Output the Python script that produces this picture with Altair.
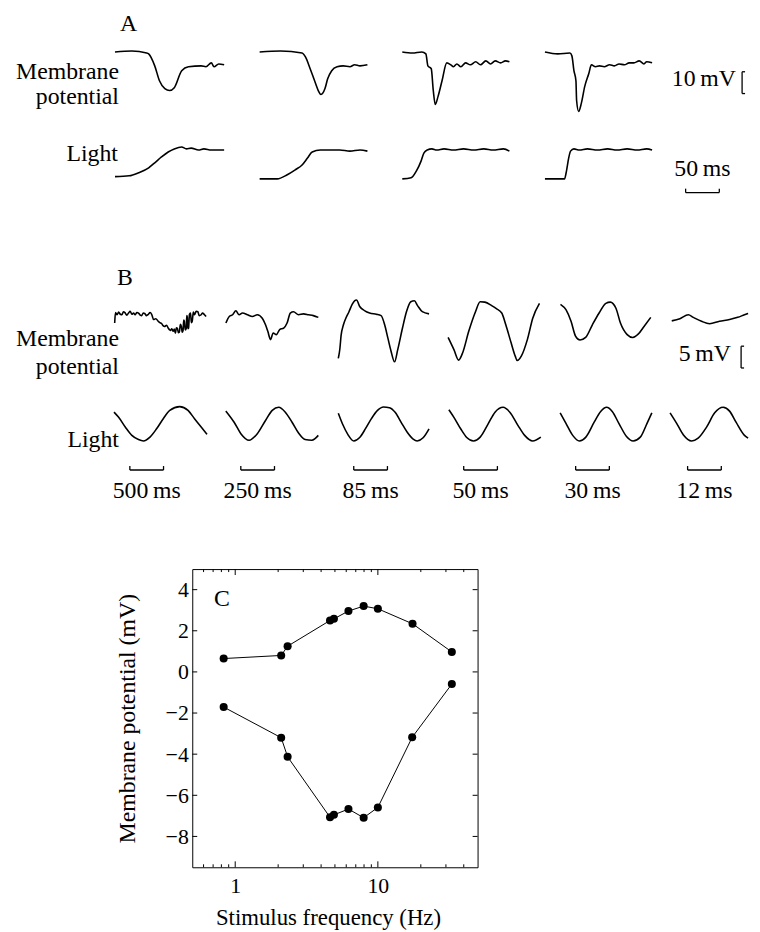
import altair as alt
import pandas as pd

FONT = "Liberation Serif"

# ---------------- Panel A : responses to light steps ----------------
# time (ms) from trace start, membrane potential (mV re. resting level)
A_MEM_T = [
    [0, 25, 47, 50, 59, 66, 74, 81, 88, 99, 109, 128, 135, 143, 147, 154, 162],
    [0, 31, 63, 68, 75, 82, 87, 91, 97, 101, 107, 115, 124, 134, 141, 149, 160],
    [0, 15, 29, 35, 38, 43, 46, 49, 53, 59, 66, 72, 76, 81, 87, 94, 101, 109, 116, 124, 131, 138, 146, 153, 159],
    [0, 19, 37, 40, 43, 46, 47, 50, 54, 59, 65, 69, 75, 81, 88, 96, 103, 110, 118, 125, 132, 140, 147, 151, 159],
]
A_MEM_V = [
    [0, 0.45, -0.45, -0.9, -6.4, -13.2, -16.8, -17.7, -16.4, -8.6, -6.8, -6.4, -6.8, -5.0, -6.8, -5.5, -5.9],
    [0, 0.45, -0.45, -2.3, -7.7, -13.6, -17.7, -19.5, -16.8, -12.3, -8.6, -6.8, -6.4, -6.8, -5.9, -6.4, -5.9],
    [0, -0.5, 0, -0.9, -6.4, -7.7, -17.7, -24.1, -20.5, -13.2, -5.0, -5.9, -6.8, -5.5, -6.8, -5.0, -5.9, -4.5, -5.9, -4.1, -5.5, -4.1, -5.0, -4.1, -4.5],
    [0, -0.9, -0.5, -1.8, -8.6, -13.2, -22.3, -27.3, -23.6, -15.9, -10.0, -5.9, -6.8, -6.4, -6.8, -5.9, -6.4, -5.5, -5.9, -5.0, -5.0, -4.1, -5.5, -4.5, -5.0],
]
# light intensity (normalised 0..1)
A_LIGHT_T = [
    [0, 21, 35, 50, 59, 69, 79, 88, 99, 106, 113, 124, 132, 143, 162],
    [0, 26, 41, 53, 63, 71, 78, 90, 104, 119, 134, 149, 160],
    [0, 13, 21, 28, 32, 37, 44, 51, 62, 76, 91, 106, 121, 135, 150, 159],
    [0, 29, 32, 35, 38, 43, 51, 63, 78, 93, 107, 122, 137, 151, 159],
]
A_LIGHT_L = [
    [0.04, 0.07, 0.18, 0.36, 0.54, 0.75, 0.93, 1.04, 1.11, 1.04, 1.07, 1.0, 1.04, 1.0, 1.0],
    [-0.04, -0.04, 0.11, 0.29, 0.46, 0.71, 0.93, 1.0, 1.0, 1.0, 0.96, 1.0, 0.96],
    [-0.04, 0, 0.25, 0.61, 0.89, 1.0, 1.04, 1.0, 1.04, 1.0, 1.04, 1.0, 1.04, 1.0, 1.04, 0.96],
    [-0.04, -0.04, 0.25, 0.68, 0.96, 1.04, 1.0, 1.04, 1.0, 1.04, 1.0, 1.04, 1.0, 1.04, 1.0],
]
A_TIME_BAR_MS = 50
A_VOLT_BAR_MV = 10

# ---------------- Panel B : responses to sinusoidal light ----------------
B_BAR_MS = [500, 250, 85, 50, 30, 12]
B_BAR_LABELS = ["500\u2009ms", "250\u2009ms", "85\u2009ms", "50\u2009ms", "30\u2009ms", "12\u2009ms"]
B_MEM_T = [
    [10, 22, 45, 69, 94, 118, 140, 162, 190, 216, 240, 265, 290, 313, 340, 368, 390, 412, 434, 456, 482, 510, 535, 559, 588, 620, 657, 680, 706, 728, 750, 780, 804, 822, 838, 858, 878, 895, 911, 926, 941, 955, 970, 985, 1000, 1012, 1025, 1035, 1044, 1058, 1073, 1080, 1088, 1097, 1107, 1120, 1136, 1148, 1161, 1178, 1195, 1220, 1245, 1264, 1294, 1315, 1338, 1367],
    [7, 32, 57, 81, 105, 130, 167, 204, 240, 277, 301, 318, 338, 358, 382, 406, 436, 461, 485, 509, 546, 583, 620, 656, 693],
    [1, 5, 8, 14, 20, 28, 36, 42, 47, 55, 68, 80, 97, 109, 118, 126, 134, 143, 151, 163, 173, 184, 193, 201, 213, 230],
    [0.4, 9, 16, 22, 31, 41, 48, 55, 65, 72, 80, 86, 94, 100, 103, 109, 118, 126, 136],
    [0.6, 5.6, 10, 14, 18, 23, 29, 35, 41, 45, 50, 54, 60, 65, 70, 75, 81],
    [0, 2.9, 5.9, 7.7, 10.6, 13.5, 17.0, 20.6, 23.5, 25.9, 27.2],
]
B_MEM_V = [
    [1.9, 4.3, 3.8, 4.4, 3.9, 3.8, 4.5, 4.3, 3.7, 4.2, 4.6, 3.9, 4.2, 3.8, 4.3, 4.1, 3.7, 3.6, 4.2, 4.1, 3.6, 3.9, 4.3, 3.9, 2.7, 2.9, 2.3, 2.0, 1.8, 1.3, 1.1, 1.4, 0.75, 0.4, 0.2, 0.6, 0, 0.5, -0.45, 0.8, 0.7, -0.3, -0.2, 1.6, 1.1, -0.2, 0.2, 2.6, 2.3, 0.3, 0.7, 3.6, 3.2, 0.6, 0.75, 3.9, 4.2, 2.0, 2.3, 4.4, 3.8, 4.6, 4.5, 3.6, 3.8, 4.2, 3.9, 3.4],
    [1.9, 3.4, 3.8, 4.7, 3.8, 4.2, 3.8, 3.4, 3.8, 3.0, 1.5, 0, -1.9, -0.4, -0.75, 0.4, 0.75, 1.9, 4.2, 4.5, 3.8, 4.0, 3.8, 3.6, 3.2],
    [-6.2, -4.0, -1.0, 1.5, 3.0, 4.5, 6.2, 7.0, 7.2, 5.7, 4.7, 4.2, 3.9, 3.6, 1.5, -1.5, -4.5, -7.0, -4.2, 0.75, 4.5, 6.8, 7.0, 5.9, 4.5, 4.0],
    [-1.4, -4.2, -6.6, -4.9, 0, 4.5, 6.8, 6.7, 5.9, 5.2, 4.2, 1.5, -2.7, -5.7, -6.7, -5.7, -1.9, 3.0, 6.4],
    [6.2, 4.9, 2.3, -1.1, -2.0, -1.4, 1.5, 4.2, 6.4, 6.7, 5.3, 1.9, -0.75, -1.4, -0.6, 1.1, 3.2],
    [2.4, 2.9, 3.8, 3.2, 2.3, 1.75, 2.3, 2.7, 3.2, 3.8, 4.1],
]
B_LIGHT_T = [
    [0, 69, 167, 265, 363, 437, 534, 632, 731, 828, 975, 1099, 1195, 1294, 1382],
    [7, 68, 118, 179, 240, 301, 351, 399, 448, 498, 546, 595, 645, 693],
    [1, 12, 25, 40, 55, 70, 85, 100, 115, 130, 145, 160, 175, 190, 200, 215, 230],
    [1.5, 9, 19, 28, 38, 48, 60, 70, 82, 92, 104, 114, 126, 138],
    [0.3, 5.6, 11.5, 17.4, 23.2, 30.6, 36.4, 41.7, 46.7, 52.7, 59.4, 65.3, 71.7, 77.6, 82.0],
    [-0.6, 1.8, 4.1, 7.1, 9.4, 12.4, 15.3, 18.3, 20.6, 22.9, 25.9, 27.2],
]
B_LIGHT_L = [
    [0.84, 0.69, 0.41, 0.17, 0.05, 0.01, 0.12, 0.36, 0.65, 0.89, 1.0, 0.89, 0.65, 0.41, 0.2],
    [0.87, 0.55, 0.22, 0.03, 0.22, 0.6, 0.89, 0.98, 0.84, 0.55, 0.24, 0.05, 0.03, 0.17],
    [0.81, 0.49, 0.2, 0.01, 0.11, 0.37, 0.66, 0.89, 0.99, 0.97, 0.83, 0.54, 0.26, 0.06, 0.01, 0.1, 0.36],
    [0.91, 0.69, 0.36, 0.11, 0.01, 0.12, 0.51, 0.84, 0.98, 0.84, 0.46, 0.17, 0.01, 0.12],
    [0.82, 0.51, 0.17, 0.01, 0.12, 0.55, 0.86, 0.98, 0.86, 0.51, 0.14, 0.01, 0.12, 0.51, 0.82],
    [0.82, 0.51, 0.19, 0.01, 0.09, 0.41, 0.82, 0.98, 0.87, 0.55, 0.17, 0.09],
]
B_VOLT_BAR_MV = 5

# ---------------- Panel C : peak amplitudes vs frequency ----------------
C_FREQ_UP = [0.83, 2.1, 2.33, 4.62, 4.92, 6.22, 7.95, 10.0, 17.5, 33.0]
C_MV_UP = [0.65, 0.80, 1.25, 2.50, 2.58, 2.96, 3.20, 3.07, 2.34, 0.97]
C_FREQ_LOW = [0.83, 2.1, 2.33, 4.62, 4.92, 6.22, 7.95, 10.0, 17.4, 33.0]
C_MV_LOW = [-1.71, -3.20, -4.13, -7.07, -6.95, -6.67, -7.09, -6.59, -3.18, -0.59]
C_Y_TICKS = [-8, -6, -4, -2, 0, 2, 4]
C_X_MAJOR = [1, 10]
C_X_MINOR = [0.6, 0.7, 0.8, 0.9, 2, 3, 4, 5, 6, 7, 8, 9, 20, 30, 40]

# ---------------- layout (page pixels for the trace panels) ----------------
A_X0 = [113, 259, 403, 547]
A_PX_PER_MS = 0.68
A_MEM_Y0, A_PX_PER_MV = 48, 2.2
A_LIGHT_Y0, A_LIGHT_AMP = 175, 28
B_X0 = [112, 224, 338, 449, 562, 675]
B_BAR_PX = 34
B_MEM_Y0, B_PX_PER_MV = 330, 4.4
B_LIGHT_Y0, B_LIGHT_AMP = 441, 35
TXT = 24

rows = []
for k, x0 in enumerate(A_X0):
    for i, (t, v) in enumerate(zip(A_MEM_T[k], A_MEM_V[k])):
        rows.append(dict(trace=f"Am{k}", i=i, x=x0 + t * A_PX_PER_MS, y=A_MEM_Y0 - v * A_PX_PER_MV))
    for i, (t, l) in enumerate(zip(A_LIGHT_T[k], A_LIGHT_L[k])):
        rows.append(dict(trace=f"Al{k}", i=i, x=x0 + t * A_PX_PER_MS, y=A_LIGHT_Y0 - l * A_LIGHT_AMP))
for k, x0 in enumerate(B_X0):
    pxms = B_BAR_PX / B_BAR_MS[k]
    for i, (t, v) in enumerate(zip(B_MEM_T[k], B_MEM_V[k])):
        rows.append(dict(trace=f"Bm{k}", i=i, x=x0 + t * pxms, y=B_MEM_Y0 - v * B_PX_PER_MV))
    for i, (t, l) in enumerate(zip(B_LIGHT_T[k], B_LIGHT_L[k])):
        rows.append(dict(trace=f"Bl{k}", i=i, x=x0 + t * pxms, y=B_LIGHT_Y0 - l * B_LIGHT_AMP))
traces = pd.DataFrame(rows)

# scale bars
rules = []
def hbar(xa, xb, y, tick):
    rules.extend([dict(x=xa, y=y, x2=xb, y2=y), dict(x=xa, y=y - tick, x2=xa, y2=y),
                  dict(x=xb, y=y - tick, x2=xb, y2=y)])
def bracket(x, ytop, length):
    rules.extend([dict(x=x, y=ytop, x2=x, y2=ytop + length), dict(x=x, y=ytop, x2=x + 3, y2=ytop),
                  dict(x=x, y=ytop + length, x2=x + 3, y2=ytop + length)])
hbar(689, 689 + A_TIME_BAR_MS * A_PX_PER_MS, 190, 4)
bracket(746, 68, A_VOLT_BAR_MV * A_PX_PER_MV)
for k, x0 in enumerate(B_X0):
    hbar(x0 + 16, x0 + 16 + B_BAR_PX, 470, 4)
bracket(745, 345, B_VOLT_BAR_MV * B_PX_PER_MV)
rules = pd.DataFrame(rules)

txt_right = pd.DataFrame([
    dict(x=117, y=75, t="Membrane"), dict(x=117, y=101, t="potential"), dict(x=116, y=158, t="Light"),
    dict(x=117, y=345, t="Membrane"), dict(x=117, y=373, t="potential"), dict(x=117, y=447, t="Light"),
])
txt_left = pd.DataFrame([
    dict(x=118, y=27, t="A"), dict(x=115, y=283, t="B"),
    dict(x=675, y=82, t="10\u2009mV"), dict(x=682, y=360, t="5\u2009mV"),
])
txt_center = pd.DataFrame(
    [dict(x=706, y=173, t="50\u2009ms")] +
    [dict(x=x0 + 16 + B_BAR_PX / 2, y=498, t=lab) for x0, lab in zip(B_X0, B_BAR_LABELS)]
)

CW, CH = 744, 520
xs = alt.Scale(domain=[8, 8 + CW], nice=False, zero=False)
ys = alt.Scale(domain=[8, 8 + CH], nice=False, zero=False, reverse=True)
X = lambda f: alt.X(f, scale=xs, axis=None)
Y = lambda f: alt.Y(f, scale=ys, axis=None)

lines = alt.Chart(traces).mark_line(color="black", strokeWidth=1.6, interpolate="monotone").encode(
    x=X("x:Q"), y=Y("y:Q"), detail="trace:N", order="i:Q")
bars = alt.Chart(rules).mark_rule(color="black", strokeWidth=1.3).encode(
    x=X("x:Q"), y=Y("y:Q"), x2="x2:Q", y2="y2:Q")
def texts(df, align):
    return alt.Chart(df).mark_text(align=align, baseline="alphabetic", font=FONT, fontSize=TXT, color="black").encode(
        x=X("x:Q"), y=Y("y:Q"), text="t:N")
canvas = alt.layer(lines, bars, texts(txt_right, "right"), texts(txt_left, "left"),
                   texts(txt_center, "center")).properties(width=CW, height=CH)

# ---------------- Panel C chart ----------------
PW, PH = 288, 301
cdf = pd.DataFrame(
    [dict(freq=f, mv=v, s="peak") for f, v in zip(C_FREQ_UP, C_MV_UP)] +
    [dict(freq=f, mv=v, s="trough") for f, v in zip(C_FREQ_LOW, C_MV_LOW)]
)
xc = alt.Scale(type="log", domain=[0.5, 50], nice=False)
yc = alt.Scale(domain=[-9.5, 5], nice=False, zero=False)
xaxis = alt.Axis(values=C_X_MAJOR, ticks=False, domain=False, grid=False, labelFontSize=22, labelPadding=8,
                 title="Stimulus frequency (Hz)", titleFontSize=23, titleFontWeight="normal",
                 titleX=137, titleY=58, titleBaseline="alphabetic", titleAlign="center")
yaxis = alt.Axis(values=C_Y_TICKS, ticks=False, domain=False, grid=False, labelFontSize=22, labelPadding=4,
                 title="Membrane potential (mV)", titleFontSize=24, titleFontWeight="normal",
                 titleX=-58, titleY=PH / 2, titleBaseline="alphabetic", titleAlign="center", titleAngle=270)

cl = alt.Chart(cdf).mark_line(color="black", strokeWidth=1).encode(
    x=alt.X("freq:Q", scale=xc, axis=xaxis), y=alt.Y("mv:Q", scale=yc, axis=yaxis), detail="s:N")
cp = alt.Chart(cdf).mark_circle(size=66, color="black", opacity=1).encode(x="freq:Q", y="mv:Q")

ytick_df = pd.DataFrame({"mv": C_Y_TICKS})
xmaj_df = pd.DataFrame({"freq": C_X_MAJOR})
xmin_df = pd.DataFrame({"freq": C_X_MINOR})
tick_layers = [
    alt.Chart(ytick_df).mark_rule(color="black").encode(y="mv:Q", x=alt.value(0), x2=alt.value(5)),
    alt.Chart(ytick_df).mark_rule(color="black").encode(y="mv:Q", x=alt.value(PW - 5), x2=alt.value(PW)),
    alt.Chart(xmaj_df).mark_rule(color="black").encode(x="freq:Q", y=alt.value(PH - 6), y2=alt.value(PH)),
    alt.Chart(xmaj_df).mark_rule(color="black").encode(x="freq:Q", y=alt.value(0), y2=alt.value(6)),
    alt.Chart(xmin_df).mark_rule(color="black").encode(x="freq:Q", y=alt.value(PH - 3), y2=alt.value(PH)),
    alt.Chart(xmin_df).mark_rule(color="black").encode(x="freq:Q", y=alt.value(0), y2=alt.value(3)),
]
clabel = alt.Chart(pd.DataFrame({"t": ["C"]})).mark_text(
    align="left", baseline="alphabetic", font=FONT, fontSize=TXT, color="black").encode(
    x=alt.value(22), y=alt.value(37), text="t:N")

panel_c = alt.layer(cl, cp, *tick_layers, clabel).properties(
    width=PW, height=PH, view=alt.ViewBackground(stroke="black", strokeWidth=1))

spacer = alt.Chart(pd.DataFrame({"z": [0]})).mark_point(opacity=0).encode(
    x=alt.value(0), y=alt.value(0)).properties(width=105, height=10)

chart = alt.vconcat(canvas, alt.hconcat(spacer, panel_c, spacing=0), spacing=39).properties(
    padding=0
).configure_view(strokeWidth=0).configure_axis(
    labelFont=FONT, titleFont=FONT, labelColor="black", titleColor="black"
).configure_text(font=FONT)

chart.save("out.html", embed_options={"renderer": "svg", "actions": False})
